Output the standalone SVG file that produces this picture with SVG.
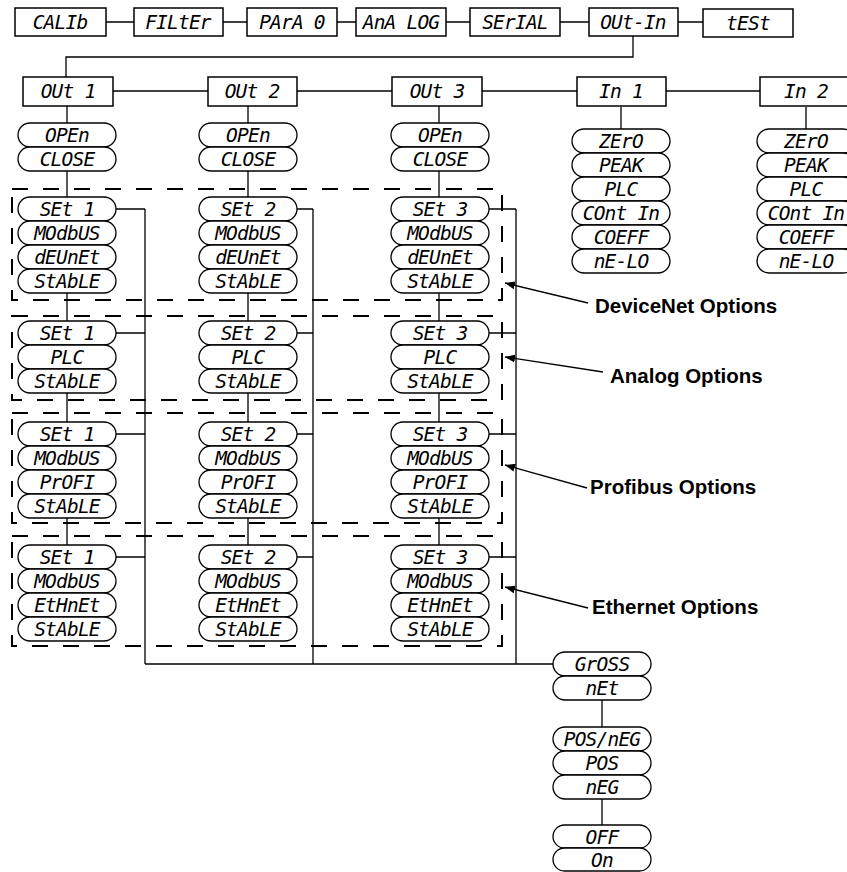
<svg xmlns="http://www.w3.org/2000/svg" width="847" height="872" viewBox="0 0 847 872">
<style>
.bx{fill:#fff;stroke:#000;stroke-width:1.5}
.pl{fill:#fff;stroke:#000;stroke-width:1.3}
.ln{fill:none;stroke:#000;stroke-width:1.3}
.ds{fill:none;stroke:#000;stroke-width:2;stroke-dasharray:16 15}
.t{font-family:"DejaVu Sans Mono","Liberation Mono",monospace;font-style:oblique;font-size:19.5px;letter-spacing:-0.8px;text-anchor:middle;fill:#000}
.lb{font-family:"Liberation Sans",Arial,sans-serif;font-weight:bold;font-size:20.5px;fill:#000}
</style>
<defs>
<marker id="ah" viewBox="0 0 10 8" refX="10" refY="4" markerWidth="10" markerHeight="8" markerUnits="userSpaceOnUse" orient="auto"><path d="M0,0 L10,4 L0,8 Z" fill="#000"/></marker>
</defs>
<rect width="847" height="872" fill="#fff"/>

<g id="connectors">
<path class="ln" d="M106,22H134M223,22H247M337,22H356M446,22H470M560,22H589M678,22H703"/>
<path class="ln" d="M633,36V57H66V77"/>
<path class="ln" d="M113,91H208M297,91H392M482,91H577M666,91H760"/>
<path class="ln" d="M67,106V123M248,106V123M439,106V123M621,107V129M806,107V129"/>
<path class="ln" d="M67,171V197M248,171V197M439,171V197"/>
<path class="ln" d="M67,293V321M248,293V321M439,293V321"/>
<path class="ln" d="M67,393V422M248,393V422M439,393V422"/>
<path class="ln" d="M67,518V545M248,518V545M439,518V545"/>
<path class="ln" d="M145,209V664M313,209V664M516,209V664M145,664H553"/>
<path class="ln" d="M116,209H145M116,333H145M116,434H145M116,557H145"/>
<path class="ln" d="M297,209H313M297,333H313M297,434H313M297,557H313"/>
<path class="ln" d="M489,209H516M489,333H516M489,434H516M489,557H516"/>
<path class="ln" d="M602,700V727M602,799V825"/>
<path class="ln" d="M588,303L505,283" marker-end="url(#ah)"/>
<path class="ln" d="M603,372L505,357" marker-end="url(#ah)"/>
<path class="ln" d="M587,488L505,465" marker-end="url(#ah)"/>
<path class="ln" d="M588,608L505,587" marker-end="url(#ah)"/>
</g>

<g id="groups">
<rect class="ds" x="12" y="189" width="490" height="111"/>
<rect class="ds" x="12" y="316" width="490" height="84"/>
<rect class="ds" x="12" y="413" width="490" height="110"/>
<rect class="ds" x="12" y="536" width="490" height="110"/>
</g>

<g id="menu-top">
<g id="calib"><rect class="bx" x="15" y="8" width="91" height="28"/><text class="t" x="60" y="29">CALIb</text></g>
<g id="filter"><rect class="bx" x="134" y="8" width="89" height="28"/><text class="t" x="178" y="29">FILtEr</text></g>
<g id="para0"><rect class="bx" x="247" y="8" width="90" height="28"/><text class="t" x="292" y="29">PArA 0</text></g>
<g id="analog"><rect class="bx" x="356" y="8" width="90" height="28"/><text class="t" x="401" y="29">AnA LOG</text></g>
<g id="serial"><rect class="bx" x="470" y="8" width="90" height="28"/><text class="t" x="515" y="29">SErIAL</text></g>
<g id="outin"><rect class="bx" x="589" y="8" width="89" height="28"/><text class="t" x="633" y="29">OUt-In</text></g>
<g id="test"><rect class="bx" x="703" y="9" width="90" height="28"/><text class="t" x="748" y="30">tESt</text></g>
</g>

<g id="menu-second">
<g id="out1"><rect class="bx" x="23" y="77" width="90" height="29"/><text class="t" x="68" y="98">OUt 1</text></g>
<g id="out2"><rect class="bx" x="208" y="77" width="89" height="29"/><text class="t" x="252" y="98">OUt 2</text></g>
<g id="out3"><rect class="bx" x="392" y="77" width="90" height="29"/><text class="t" x="437" y="98">OUt 3</text></g>
<g id="in1"><rect class="bx" x="577" y="77" width="89" height="29"/><text class="t" x="621" y="98">In 1</text></g>
<g id="in2"><rect class="bx" x="760" y="77" width="92" height="29"/><text class="t" x="806" y="98">In 2</text></g>
</g>

<g id="col1">
<g id="c1-open"><rect class="pl" x="18" y="123" width="98" height="24" rx="12"/><text class="t" x="67" y="142">OPEn</text></g>
<g id="c1-close"><rect class="pl" x="18" y="147" width="98" height="24" rx="12"/><text class="t" x="67" y="166">CLOSE</text></g>
<g id="c1-dn"><rect class="pl" x="18" y="197" width="98" height="24" rx="12"/><text class="t" x="67" y="216">SEt 1</text>
<rect class="pl" x="18" y="221" width="98" height="24" rx="12"/><text class="t" x="67" y="240">MOdbUS</text>
<rect class="pl" x="18" y="245" width="98" height="24" rx="12"/><text class="t" x="67" y="264">dEUnEt</text>
<rect class="pl" x="18" y="269" width="98" height="24" rx="12"/><text class="t" x="67" y="288">StAbLE</text></g>
<g id="c1-an"><rect class="pl" x="18" y="321" width="98" height="24" rx="12"/><text class="t" x="67" y="340">SEt 1</text>
<rect class="pl" x="18" y="345" width="98" height="24" rx="12"/><text class="t" x="67" y="364">PLC</text>
<rect class="pl" x="18" y="369" width="98" height="24" rx="12"/><text class="t" x="67" y="388">StAbLE</text></g>
<g id="c1-pb"><rect class="pl" x="18" y="422" width="98" height="24" rx="12"/><text class="t" x="67" y="441">SEt 1</text>
<rect class="pl" x="18" y="446" width="98" height="24" rx="12"/><text class="t" x="67" y="465">MOdbUS</text>
<rect class="pl" x="18" y="470" width="98" height="24" rx="12"/><text class="t" x="67" y="489">PrOFI</text>
<rect class="pl" x="18" y="494" width="98" height="24" rx="12"/><text class="t" x="67" y="513">StAbLE</text></g>
<g id="c1-et"><rect class="pl" x="18" y="545" width="98" height="24" rx="12"/><text class="t" x="67" y="564">SEt 1</text>
<rect class="pl" x="18" y="569" width="98" height="24" rx="12"/><text class="t" x="67" y="588">MOdbUS</text>
<rect class="pl" x="18" y="593" width="98" height="24" rx="12"/><text class="t" x="67" y="612">EtHnEt</text>
<rect class="pl" x="18" y="617" width="98" height="24" rx="12"/><text class="t" x="67" y="636">StAbLE</text></g>
</g>

<g id="col2">
<g id="c2-open"><rect class="pl" x="199" y="123" width="98" height="24" rx="12"/><text class="t" x="248" y="142">OPEn</text></g>
<g id="c2-close"><rect class="pl" x="199" y="147" width="98" height="24" rx="12"/><text class="t" x="248" y="166">CLOSE</text></g>
<g id="c2-dn"><rect class="pl" x="199" y="197" width="98" height="24" rx="12"/><text class="t" x="248" y="216">SEt 2</text>
<rect class="pl" x="199" y="221" width="98" height="24" rx="12"/><text class="t" x="248" y="240">MOdbUS</text>
<rect class="pl" x="199" y="245" width="98" height="24" rx="12"/><text class="t" x="248" y="264">dEUnEt</text>
<rect class="pl" x="199" y="269" width="98" height="24" rx="12"/><text class="t" x="248" y="288">StAbLE</text></g>
<g id="c2-an"><rect class="pl" x="199" y="321" width="98" height="24" rx="12"/><text class="t" x="248" y="340">SEt 2</text>
<rect class="pl" x="199" y="345" width="98" height="24" rx="12"/><text class="t" x="248" y="364">PLC</text>
<rect class="pl" x="199" y="369" width="98" height="24" rx="12"/><text class="t" x="248" y="388">StAbLE</text></g>
<g id="c2-pb"><rect class="pl" x="199" y="422" width="98" height="24" rx="12"/><text class="t" x="248" y="441">SEt 2</text>
<rect class="pl" x="199" y="446" width="98" height="24" rx="12"/><text class="t" x="248" y="465">MOdbUS</text>
<rect class="pl" x="199" y="470" width="98" height="24" rx="12"/><text class="t" x="248" y="489">PrOFI</text>
<rect class="pl" x="199" y="494" width="98" height="24" rx="12"/><text class="t" x="248" y="513">StAbLE</text></g>
<g id="c2-et"><rect class="pl" x="199" y="545" width="98" height="24" rx="12"/><text class="t" x="248" y="564">SEt 2</text>
<rect class="pl" x="199" y="569" width="98" height="24" rx="12"/><text class="t" x="248" y="588">MOdbUS</text>
<rect class="pl" x="199" y="593" width="98" height="24" rx="12"/><text class="t" x="248" y="612">EtHnEt</text>
<rect class="pl" x="199" y="617" width="98" height="24" rx="12"/><text class="t" x="248" y="636">StAbLE</text></g>
</g>

<g id="col3">
<g id="c3-open"><rect class="pl" x="391" y="123" width="98" height="24" rx="12"/><text class="t" x="440" y="142">OPEn</text></g>
<g id="c3-close"><rect class="pl" x="391" y="147" width="98" height="24" rx="12"/><text class="t" x="440" y="166">CLOSE</text></g>
<g id="c3-dn"><rect class="pl" x="391" y="197" width="98" height="24" rx="12"/><text class="t" x="440" y="216">SEt 3</text>
<rect class="pl" x="391" y="221" width="98" height="24" rx="12"/><text class="t" x="440" y="240">MOdbUS</text>
<rect class="pl" x="391" y="245" width="98" height="24" rx="12"/><text class="t" x="440" y="264">dEUnEt</text>
<rect class="pl" x="391" y="269" width="98" height="24" rx="12"/><text class="t" x="440" y="288">StAbLE</text></g>
<g id="c3-an"><rect class="pl" x="391" y="321" width="98" height="24" rx="12"/><text class="t" x="440" y="340">SEt 3</text>
<rect class="pl" x="391" y="345" width="98" height="24" rx="12"/><text class="t" x="440" y="364">PLC</text>
<rect class="pl" x="391" y="369" width="98" height="24" rx="12"/><text class="t" x="440" y="388">StAbLE</text></g>
<g id="c3-pb"><rect class="pl" x="391" y="422" width="98" height="24" rx="12"/><text class="t" x="440" y="441">SEt 3</text>
<rect class="pl" x="391" y="446" width="98" height="24" rx="12"/><text class="t" x="440" y="465">MOdbUS</text>
<rect class="pl" x="391" y="470" width="98" height="24" rx="12"/><text class="t" x="440" y="489">PrOFI</text>
<rect class="pl" x="391" y="494" width="98" height="24" rx="12"/><text class="t" x="440" y="513">StAbLE</text></g>
<g id="c3-et"><rect class="pl" x="391" y="545" width="98" height="24" rx="12"/><text class="t" x="440" y="564">SEt 3</text>
<rect class="pl" x="391" y="569" width="98" height="24" rx="12"/><text class="t" x="440" y="588">MOdbUS</text>
<rect class="pl" x="391" y="593" width="98" height="24" rx="12"/><text class="t" x="440" y="612">EtHnEt</text>
<rect class="pl" x="391" y="617" width="98" height="24" rx="12"/><text class="t" x="440" y="636">StAbLE</text></g>
</g>

<g id="in1-list">
<rect class="pl" x="572" y="129" width="98" height="24" rx="12"/><text class="t" x="621" y="148">ZErO</text>
<rect class="pl" x="572" y="153" width="98" height="24" rx="12"/><text class="t" x="621" y="172">PEAK</text>
<rect class="pl" x="572" y="177" width="98" height="24" rx="12"/><text class="t" x="621" y="196">PLC</text>
<rect class="pl" x="572" y="201" width="98" height="24" rx="12"/><text class="t" x="621" y="220">COnt In</text>
<rect class="pl" x="572" y="225" width="98" height="24" rx="12"/><text class="t" x="621" y="244">COEFF</text>
<rect class="pl" x="572" y="249" width="98" height="24" rx="12"/><text class="t" x="621" y="268">nE-LO</text>
</g>

<g id="in2-list">
<rect class="pl" x="757" y="129" width="98" height="24" rx="12"/><text class="t" x="806" y="148">ZErO</text>
<rect class="pl" x="757" y="153" width="98" height="24" rx="12"/><text class="t" x="806" y="172">PEAK</text>
<rect class="pl" x="757" y="177" width="98" height="24" rx="12"/><text class="t" x="806" y="196">PLC</text>
<rect class="pl" x="757" y="201" width="98" height="24" rx="12"/><text class="t" x="806" y="220">COnt In</text>
<rect class="pl" x="757" y="225" width="98" height="24" rx="12"/><text class="t" x="806" y="244">COEFF</text>
<rect class="pl" x="757" y="249" width="98" height="24" rx="12"/><text class="t" x="806" y="268">nE-LO</text>
</g>

<g id="bottom-list">
<g id="gross"><rect class="pl" x="553" y="652" width="98" height="24" rx="12"/><text class="t" x="602" y="671">GrOSS</text>
<rect class="pl" x="553" y="676" width="98" height="24" rx="12"/><text class="t" x="602" y="695">nEt</text></g>
<g id="posneg"><rect class="pl" x="553" y="727" width="98" height="24" rx="12"/><text class="t" x="602" y="746">POS/nEG</text>
<rect class="pl" x="553" y="751" width="98" height="24" rx="12"/><text class="t" x="602" y="770">POS</text>
<rect class="pl" x="553" y="775" width="98" height="24" rx="12"/><text class="t" x="602" y="794">nEG</text></g>
<g id="onoff"><rect class="pl" x="553" y="825" width="98" height="23" rx="11.5"/><text class="t" x="602" y="843.5">OFF</text>
<rect class="pl" x="553" y="848" width="98" height="23" rx="11.5"/><text class="t" x="602" y="866.5">On</text></g>
</g>

<g id="labels">
<text class="lb" x="595" y="313">DeviceNet Options</text>
<text class="lb" x="610" y="383">Analog Options</text>
<text class="lb" x="590" y="494">Profibus Options</text>
<text class="lb" x="592" y="614">Ethernet Options</text>
</g>
</svg>
